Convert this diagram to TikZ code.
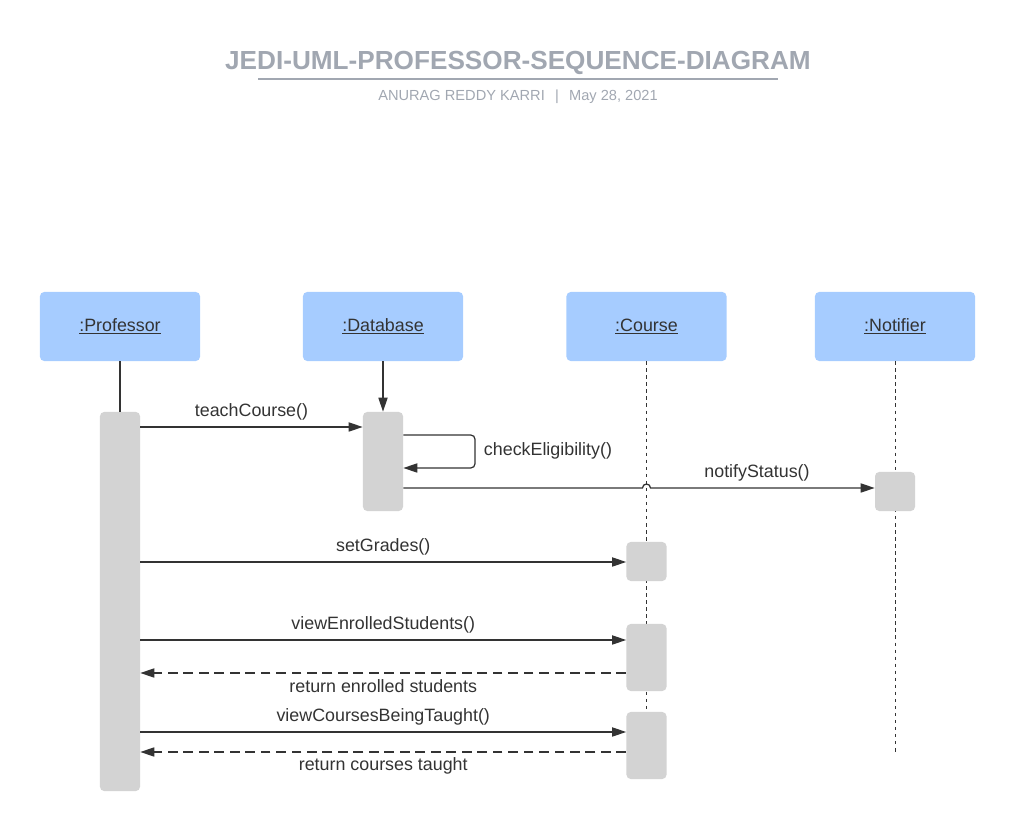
\documentclass[tikz,border=0pt]{standalone}
\usepackage{fontspec}
\setmainfont{Liberation Sans}
\usetikzlibrary{arrows.meta}
\definecolor{headblue}{RGB}{166,204,255}
\definecolor{actgray}{RGB}{211,211,211}
\definecolor{ink}{RGB}{51,51,51}
\definecolor{titlegray}{RGB}{161,167,177}
\begin{document}
\begin{tikzpicture}[x=0.025cm, y=-0.025cm, font=\fontsize{12.7}{15}\selectfont,
		head/.style={fill=headblue, rounded corners=3pt, minimum width=4cm, minimum height=1.725cm, text=ink},
		act/.style={fill=actgray, rounded corners=3pt, minimum width=1cm, inner sep=0pt},
		msg/.style={draw=ink, line width=0.9pt, -{Triangle[length=10pt,width=6.5pt]}},
		ret/.style={msg, dash pattern=on 7pt off 4pt},
		life/.style={draw=ink, line width=0.7pt, dash pattern=on 2.5pt off 2.5pt},
		lbl/.style={text=ink}]
	\useasboundingbox (0,0) rectangle (1015,832);
	\node[text=titlegray, font=\fontsize{18.6}{22}\selectfont\bfseries] (title) at (518,63) {JEDI-UML-PROFESSOR-SEQUENCE-DIAGRAM};
	\draw[titlegray, line width=1.4pt] (258,79) -- (778,79);
	\node[text=titlegray, font=\fontsize{10.4}{12}\selectfont] (sub) at (518,97) {ANURAG REDDY KARRI\hspace{0.7em}|\hspace{0.7em}May 28, 2021};
	\node[head] (prof) at (120,326.5) {\underline{:Professor}};
	\node[head] (db) at (383,326.5) {\underline{:Database}};
	\node[head] (course) at (646.5,326.5) {\underline{:Course}};
	\node[head] (notif) at (895,326.5) {\underline{:Notifier}};
	\coordinate (courseend) at (646.5,712);
	\coordinate (notifend) at (895,752);
	\draw[life] (course.south) -- (courseend);
	\draw[life] (notif.south) -- (notifend);
	\node[act, minimum height=9.475cm] (profact) at (120,601.5) {};
	\node[act, minimum height=2.475cm] (dbact) at (383,461.5) {};
	\node[act, minimum height=0.975cm] (notifact) at (895,491.5) {};
	\node[act, minimum height=0.975cm] (course1) at (646.5,561.5) {};
	\node[act, minimum height=1.675cm] (course2) at (646.5,657.5) {};
	\node[act, minimum height=1.675cm] (course3) at (646.5,745.5) {};
	\draw[draw=ink, line width=0.9pt] (prof.south) -- (profact.north);
	\draw[msg] (db.south) -- (dbact.north);
	\draw[msg] (profact.east |- 0,427) -- (dbact.west |- 0,427) node[lbl, midway, above=1pt] {teachCourse()};
	\draw[msg, rounded corners=3pt] (dbact.east |- 0,435) -- (475,435) -- (475,468) -- (dbact.east |- 0,468);
	\node[lbl, anchor=west] (chk) at (479,451) {checkEligibility()};
	\draw[msg] (dbact.east |- 0,488) -- (642.5,488) arc[start angle=180, end angle=0, radius=2.85pt] -- (notifact.west |- 0,488);
	\node[lbl, above=1pt] (notify) at (757,488) {notifyStatus()};
	\draw[msg] (profact.east |- 0,562) -- (course1.west |- 0,562) node[lbl, midway, above=1pt] {setGrades()};
	\draw[msg] (profact.east |- 0,640) -- (course2.west |- 0,640) node[lbl, midway, above=1pt] {viewEnrolledStudents()};
	\draw[ret] (course2.west |- 0,673) -- (profact.east |- 0,673) node[lbl, midway, below=1pt] {return enrolled students};
	\draw[msg] (profact.east |- 0,732) -- (course3.west |- 0,732) node[lbl, midway, above=1pt] {viewCoursesBeingTaught()};
	\draw[ret] (course3.west |- 0,752) -- (profact.east |- 0,752) node[lbl, midway, below=0.5pt] {return courses taught};
\end{tikzpicture}
\end{document}
